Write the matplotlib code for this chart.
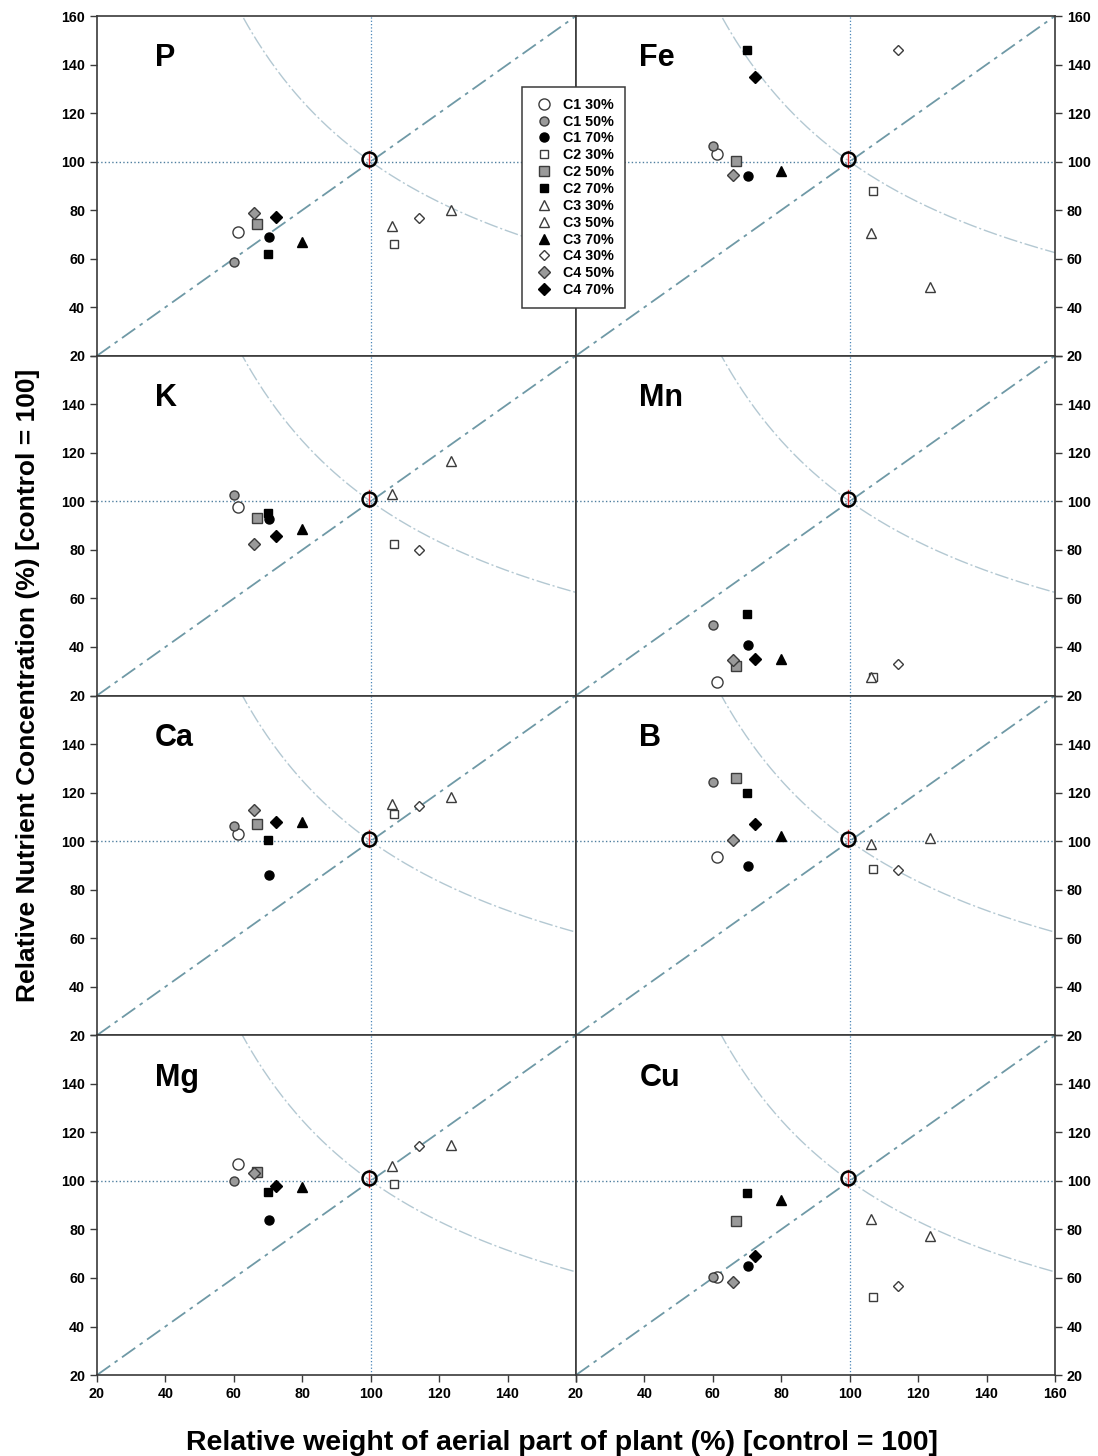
import numpy as np
import matplotlib
matplotlib.use("Agg")
import matplotlib.pyplot as plt

plt.rcParams['font.family'] = ['Liberation Sans', 'DejaVu Sans']
plt.rcParams['font.weight'] = 'bold'

# treatments (same order everywhere)
treatments = ['C1 30%', 'C1 50%', 'C1 70%',
              'C2 30%', 'C2 50%', 'C2 70%',
              'C3 30%', 'C3 50%', 'C3 70%',
              'C4 30%', 'C4 50%', 'C4 70%']

# relative weight of aerial part (x), one value per treatment
weight = [61.3, 60.0, 70.3, 106.8, 66.9, 70.0, 123.4, 106.2, 80.0, 114.2, 66.0, 72.4]

# relative nutrient concentration (y) per panel
conc_P = [71.1, 58.7, 68.9, 66.1, 74.5, 62.1, 79.9, 73.4, 66.8, 76.6, 78.8, 77.2]
conc_Fe = [103.1, 106.6, 94.1, 87.9, 100.2, 146.0, 48.2, 70.4, 96.2, 146.2, 94.5, 134.9]
conc_K = [97.6, 102.8, 92.8, 82.5, 93.2, 95.1, 116.5, 103.1, 88.7, 80.0, 82.5, 85.6]
conc_Mn = [25.6, 48.9, 40.8, 27.6, 32.1, 53.4, np.nan, 27.6, 35.0, 32.8, 34.7, 35.0]
conc_Ca = [103.1, 106.1, 85.9, 111.3, 106.9, 100.3, 118.1, 115.4, 107.9, 114.3, 112.9, 107.9]
conc_B = [93.5, 124.5, 89.6, 88.4, 126.1, 119.9, 101.4, 98.7, 102.2, 88.3, 100.6, 107.2]
conc_Mg = [106.9, 100.0, 84.0, 98.9, 103.7, 95.4, 114.7, 106.2, 97.6, 114.4, 103.1, 98.0]
conc_Cu = [60.5, 60.5, 65.1, 52.3, 83.3, 95.2, 77.4, 84.5, 92.1, 56.6, 58.2, 69.2]

nutrients = ['P', 'Fe', 'K', 'Mn', 'Ca', 'B', 'Mg', 'Cu']
concs = [conc_P, conc_Fe, conc_K, conc_Mn, conc_Ca, conc_B, conc_Mg, conc_Cu]

control = (99.5, 101.0)
ticks = [20, 40, 60, 80, 100, 120, 140, 160]

# marker style for each treatment: (marker, size, face, edge)
GRAY = '#9a9a9a'
EDGE = '#3c3c3c'
styles = [('o', 8.0, 'white', EDGE), ('o', 6.5, GRAY, EDGE), ('o', 6.5, 'black', 'black'),
          ('s', 6.3, 'white', EDGE), ('s', 6.8, GRAY, EDGE), ('s', 6.3, 'black', 'black'),
          ('^', 6.5, 'white', EDGE), ('^', 6.5, 'white', EDGE), ('^', 6.5, 'black', 'black'),
          ('D', 5.6, 'white', EDGE), ('D', 6.2, GRAY, EDGE), ('D', 6.0, 'black', 'black')]


def draw_guides(ax):
    """reference lines: 1:1 diagonal, iso-uptake hyperbola, control lines"""
    xs = np.linspace(20, 160, 300)
    ax.plot([20, 160], [20, 160], color='#6f99a6', lw=1.3, dashes=[9, 3, 2, 3], zorder=1)
    ax.plot(xs, 10000 / xs, color='#b3c8d2', lw=1.0, dashes=[10, 2, 1.5, 2], zorder=1)
    ax.axvline(100, color='#4a86b8', lw=0.9, ls=':', zorder=1)
    ax.axhline(100, color='#4f7f9f', lw=1.0, ls=':', zorder=1)


def draw_points(ax, conc):
    handles = []
    for i in range(len(treatments)):
        m, s, fc, ec = styles[i]
        h, = ax.plot(weight[i], conc[i], ls='none', marker=m, ms=s, mfc=fc, mec=ec,
                     mew=1.0, zorder=3, label=treatments[i])
        handles.append(h)
    # control point with its small red bar
    ax.plot([control[0], control[0]], [control[1] - 3.5, control[1] + 3.5], color='#e03030', lw=1.0, zorder=4)
    ax.plot(*control, ls='none', marker='o', ms=10, mfc='none', mec='black', mew=1.8, zorder=5)
    return handles


fig = plt.figure(figsize=(10.98, 14.56), dpi=100)
gs = fig.add_gridspec(4, 2, left=0.0883, right=0.9608, top=0.989, bottom=0.0556, wspace=0, hspace=0)

handles = None
for k in range(8):
    row, col = k // 2, k % 2
    ax = fig.add_subplot(gs[row, col])
    ax.set_xlim(20, 160)
    ax.set_ylim(20, 160)
    draw_guides(ax)
    h = draw_points(ax, concs[k])
    if handles is None:
        handles = h

    lx = 37 if col == 0 else 38.5
    ax.text(lx, 142.5, nutrients[k], fontsize=22, fontweight='bold', ha='left', va='center')

    for sp in ax.spines.values():
        sp.set_color('#3a3a3a')
        sp.set_linewidth(1.2)

    ax.set_xticks(ticks)
    ax.set_yticks(ticks)
    ylabels = [str(t) for t in ticks]
    if row > 0:
        ylabels[-1] = ''
    ax.set_yticklabels(ylabels)
    xlabels = [str(t) for t in ticks]
    if col == 0:
        xlabels[-1] = ''
    ax.set_xticklabels(xlabels)

    ax.tick_params(direction='out', length=5, width=1, color='#3a3a3a', labelsize=10.3)
    if col == 0:
        ax.tick_params(axis='y', left=True, right=False, labelleft=True, labelright=False)
    else:
        ax.tick_params(axis='y', left=False, right=True, labelleft=False, labelright=True)
    if row < 3:
        ax.tick_params(axis='x', bottom=False, labelbottom=False)
    for lab in ax.get_xticklabels() + ax.get_yticklabels():
        lab.set_fontweight('bold')

leg = fig.legend(handles, treatments, loc='upper left', bbox_to_anchor=(522 / 1098, 1 - 87 / 1456),
                 frameon=True, fancybox=False, framealpha=1, edgecolor='#3a3a3a',
                 prop={'weight': 'bold', 'size': 10.3}, labelspacing=0.2, handletextpad=0.5,
                 handlelength=1.6, borderpad=0.75, borderaxespad=0)
leg.get_frame().set_linewidth(1.1)

fig.text(0.0255, 0.529, 'Relative Nutrient Concentration (%) [control = 100]', rotation=90,
         ha='center', va='center', fontsize=19, fontweight='bold')
fig.text(0.512, 1 - 1450 / 1456, 'Relative weight of aerial part of plant (%) [control = 100]',
         ha='center', va='baseline', fontsize=20.5, fontweight='bold')

fig.savefig('out.png', dpi=100)
